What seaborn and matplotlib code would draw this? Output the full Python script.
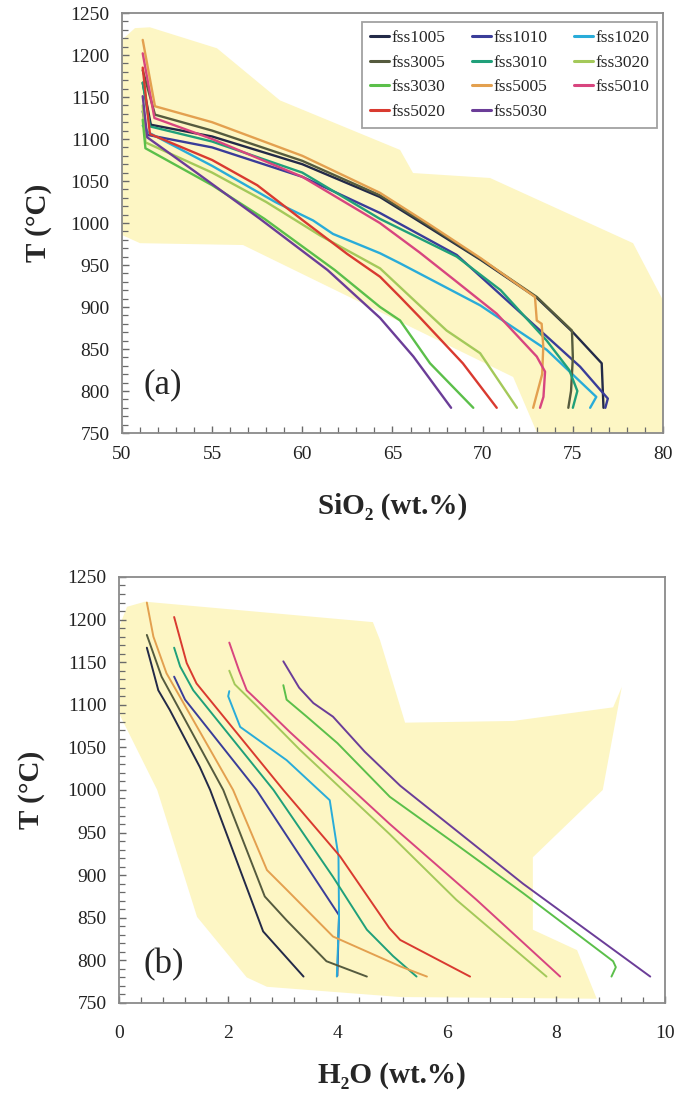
import numpy as np
import pandas as pd
import matplotlib
matplotlib.use("Agg")
import matplotlib.pyplot as plt
import seaborn as sns
from matplotlib.ticker import MultipleLocator
from matplotlib.lines import Line2D

# ---------------- data ----------------
runs = ["fss1005", "fss1010", "fss1020", "fss3005", "fss3010", "fss3020",
        "fss3030", "fss5005", "fss5010", "fss5020", "fss5030"]
colors = ["#232a48", "#3a3d99", "#29acd9", "#555b3e", "#20a07a", "#a4c95a",
          "#5bbf4a", "#e3a04f", "#d8457f", "#d93a30", "#6b3d98"]

# panel (a): SiO2 (wt.%) vs T (C)
a_x_1005 = [51.15, 51.6, 55, 60, 64.3, 67, 69.9, 73.0, 75.0, 76.6, 76.7]
a_t_1005 = [1167, 1117, 1103, 1070, 1031, 995, 956, 911, 870, 833, 780]
a_x_1010 = [51.15, 51.4, 55, 60, 64.3, 68.56, 73.55, 75.4, 76.94, 76.8]
a_t_1010 = [1133, 1105, 1090, 1055, 1012, 962, 865, 829, 791, 780]
a_x_1020 = [51.15, 51.45, 55, 58.5, 60.6, 61.7, 64.31, 65.42, 69.86, 73.55, 76.3, 75.96]
a_t_1020 = [1116, 1108, 1068, 1025, 1003, 987, 964, 952, 902, 849, 793, 780]
a_x_3005 = [51.15, 51.83, 55, 60, 64.3, 67, 69.9, 73.0, 74.95, 75.0, 74.9, 74.75]
a_t_3005 = [1182, 1129, 1110, 1074, 1033, 997, 957, 912, 872, 840, 800, 780]
a_x_3010 = [51.15, 51.55, 55, 60, 64.3, 68.56, 71, 73.55, 74.8, 75.25, 75.0]
a_t_3010 = [1167, 1115, 1097, 1060, 1005, 960, 920, 860, 825, 800, 780]
a_x_3020 = [51.15, 51.3, 55, 58, 61, 64.31, 66, 68, 69.86, 71.9]
a_t_3020 = [1140, 1096, 1060, 1025, 985, 946, 912, 872, 845, 780]
a_x_3030 = [51.15, 51.3, 55, 57.9, 61.8, 64.31, 65.42, 67.08, 69.48]
a_t_3030 = [1123, 1089, 1045, 1005, 944, 900, 884, 833, 780]
a_x_5005 = [51.15, 51.83, 55, 60, 64.3, 67, 69.9, 72.9, 73.0, 73.27, 73.36, 73.3, 72.8]
a_t_5005 = [1218, 1139, 1120, 1080, 1036, 999, 958, 912, 884, 880, 853, 820, 780]
a_x_5010 = [51.15, 51.8, 55, 60, 64.3, 66.5, 68.56, 70.78, 73.0, 73.46, 73.37, 73.18]
a_t_5010 = [1202, 1125, 1100, 1055, 1000, 965, 930, 892, 841, 823, 793, 780]
a_x_5020 = [51.15, 51.55, 55, 57.5, 60.04, 62.5, 64.31, 65.42, 66.5, 68.9, 70.78]
a_t_5020 = [1185, 1106, 1075, 1045, 1003, 963, 936, 912, 888, 833, 780]
a_x_5030 = [51.15, 51.4, 54, 57.65, 61.4, 64.31, 66.16, 68.25]
a_t_5030 = [1151, 1102, 1062, 1005, 944, 887, 841, 780]

# panel (b): H2O (wt.%) vs T (C)
b_x_1005 = [0.51, 0.57, 0.72, 0.93, 1.48, 1.67, 2.64, 3.38]
b_t_1005 = [1167, 1153, 1117, 1094, 1027, 1000, 834, 781]
b_x_1010 = [1.01, 1.21, 2.52, 4.03, 4.0]
b_t_1010 = [1133, 1106, 1000, 853, 782]
b_x_1020 = [2.02, 2.0, 2.22, 3.07, 3.86, 4.02, 4.03, 3.99]
b_t_1020 = [1116, 1110, 1074, 1035, 988, 922, 851, 781]
b_x_3005 = [0.51, 0.78, 1.91, 2.67, 3.07, 3.80, 4.54]
b_t_3005 = [1182, 1133, 1000, 875, 847, 799, 781]
b_x_3010 = [1.01, 1.12, 1.36, 2.83, 3.92, 4.54, 5.02, 5.45]
b_t_3010 = [1167, 1145, 1117, 1000, 898, 836, 805, 781]
b_x_3020 = [2.02, 2.12, 2.5, 3.3, 4.96, 6.18, 7.83]
b_t_3020 = [1140, 1124, 1100, 1048, 948, 871, 781]
b_x_3030 = [3.01, 3.07, 3.44, 4.0, 4.96, 6.2, 7.4, 9.05, 9.1, 9.02]
b_t_3030 = [1123, 1106, 1086, 1055, 992, 935, 879, 799, 792, 781]
b_x_5005 = [0.51, 0.63, 0.87, 2.09, 2.71, 3.07, 3.92, 5.15, 5.64]
b_t_5005 = [1220, 1180, 1137, 1000, 906, 883, 828, 793, 781]
b_x_5010 = [2.02, 2.2, 2.34, 2.52, 3.13, 4.96, 6.55, 8.08]
b_t_5010 = [1173, 1140, 1117, 1106, 1068, 960, 871, 781]
b_x_5020 = [1.01, 1.24, 1.42, 3.01, 4.05, 4.95, 5.15, 6.43]
b_t_5020 = [1203, 1149, 1125, 1000, 922, 838, 824, 781]
b_x_5030 = [3.01, 3.3, 3.56, 3.92, 4.5, 5.15, 7.4, 9.73]
b_t_5030 = [1151, 1120, 1102, 1086, 1045, 1005, 890, 781]

# shaded field outlines
field_a_x = [50, 50.72, 51.55, 55.27, 58.76, 65.42, 66.14, 70.41, 78.34, 80, 80,
             73.02, 71.69, 56.71, 51.0, 50]
field_a_t = [1218, 1232, 1233, 1208, 1146, 1087, 1059.5, 1053.6, 976, 908, 750,
             750, 816.7, 973.8, 976, 985.7]
field_b_x = [0, 0.147, 0.476, 4.65, 4.78, 5.24, 7.22, 9.05, 9.21, 8.86, 7.58, 7.58,
             8.39, 8.75, 5.15, 2.71, 2.34, 1.43, 0.70, 0]
field_b_t = [1191, 1215, 1221, 1197, 1176, 1079, 1081, 1097, 1121, 1000, 921, 836,
             812, 755, 757, 769, 780, 851, 1000, 1090]

a_series = [(a_x_1005, a_t_1005), (a_x_1010, a_t_1010), (a_x_1020, a_t_1020),
            (a_x_3005, a_t_3005), (a_x_3010, a_t_3010), (a_x_3020, a_t_3020),
            (a_x_3030, a_t_3030), (a_x_5005, a_t_5005), (a_x_5010, a_t_5010),
            (a_x_5020, a_t_5020), (a_x_5030, a_t_5030)]
b_series = [(b_x_1005, b_t_1005), (b_x_1010, b_t_1010), (b_x_1020, b_t_1020),
            (b_x_3005, b_t_3005), (b_x_3010, b_t_3010), (b_x_3020, b_t_3020),
            (b_x_3030, b_t_3030), (b_x_5005, b_t_5005), (b_x_5010, b_t_5010),
            (b_x_5020, b_t_5020), (b_x_5030, b_t_5030)]


def long_df(series):
    rows = []
    for name, (xs, ts) in zip(runs, series):
        for i, (x, t) in enumerate(zip(xs, ts)):
            rows.append({"run": name, "x": x, "T": t, "i": i})
    return pd.DataFrame(rows)


df_a = long_df(a_series)
df_b = long_df(b_series)
palette = dict(zip(runs, colors))

# ---------------- style ----------------
sns.set_theme(style="white")
plt.rcParams["font.family"] = ["Liberation Serif", "DejaVu Serif"]
plt.rcParams["axes.edgecolor"] = "#8a8a8a"
plt.rcParams["axes.linewidth"] = 1.3

fig = plt.figure(figsize=(6.78, 10.94), dpi=100)
ax1 = fig.add_axes([0.1799, 0.6042, 0.798, 0.3839])
ax2 = fig.add_axes([0.1755, 0.0832, 0.8053, 0.3894])

FILL = "#fdf6c4"

# panel a
ax1.fill(field_a_x, field_a_t, color=FILL, lw=0, zorder=0)
sns.lineplot(data=df_a, x="x", y="T", hue="run", palette=palette, sort=False,
             estimator=None, units="run", legend=False, lw=1.7, ax=ax1, zorder=2)
ax1.set_xlim(50, 80)
ax1.set_ylim(750, 1250)
ax1.set_xticks([50, 55, 60, 65, 70, 75, 80])
ax1.set_yticks(np.arange(750, 1251, 50))
ax1.xaxis.set_minor_locator(MultipleLocator(1))
ax1.yaxis.set_minor_locator(MultipleLocator(10))
ax1.set_xlabel("SiO₂ (wt.%)", fontsize=21, fontweight="bold", labelpad=22)
ax1.set_ylabel("T (°C)", fontsize=21, fontweight="bold", labelpad=13)
ax1.text(0.04, 0.114, "(a)", transform=ax1.transAxes, fontsize=25,
         va="center", ha="left")

# legend (row-major order as in the reference)
order = ["fss1005", "fss3005", "fss3030", "fss5020",
         "fss1010", "fss3010", "fss5005", "fss5030",
         "fss1020", "fss3020", "fss5010"]
handles = [Line2D([0], [0], color=palette[r], lw=2.2) for r in order]
leg = ax1.legend(handles, order, ncol=3, loc="upper right",
                 bbox_to_anchor=(0.989, 0.979), borderaxespad=0,
                 fontsize=12.5, frameon=True,
                 fancybox=False, handlelength=1.1, handletextpad=0.15,
                 columnspacing=1.5, labelspacing=0.5, borderpad=0.45)
leg.get_frame().set_edgecolor("#8a8a8a")
leg.get_frame().set_linewidth(1.3)

# panel b
ax2.fill(field_b_x, field_b_t, color=FILL, lw=0, zorder=0)
sns.lineplot(data=df_b, x="x", y="T", hue="run", palette=palette, sort=False,
             estimator=None, units="run", legend=False, lw=1.4, ax=ax2, zorder=2)
ax2.set_xlim(0, 10)
ax2.set_ylim(750, 1250)
ax2.set_xticks([0, 2, 4, 6, 8, 10])
ax2.set_yticks(np.arange(750, 1251, 50))
ax2.xaxis.set_minor_locator(MultipleLocator(0.4))
ax2.yaxis.set_minor_locator(MultipleLocator(10))
ax2.set_xlabel("H₂O (wt.%)", fontsize=21, fontweight="bold", labelpad=14)
ax2.set_ylabel("T (°C)", fontsize=21, fontweight="bold", labelpad=16)
ax2.text(0.044, 0.09, "(b)", transform=ax2.transAxes, fontsize=25,
         va="center", ha="left")

for ax in (ax1, ax2):
    ax.tick_params(axis="both", which="both", bottom=True, left=True,
                   top=False, right=False)
    ax.tick_params(axis="both", which="major", direction="in", length=5,
                   width=1.0, color="#6a6a6a", labelsize=14, pad=9,
                   labelcolor="#222222")
    ax.tick_params(axis="both", which="minor", direction="in", length=4,
                   width=0.9, color="#6a6a6a")
    for s in ax.spines.values():
        s.set_color("#8a8a8a")
        s.set_linewidth(1.3)

ax2.tick_params(axis="x", which="major", pad=16)

fig.savefig("out.png", dpi=100)
